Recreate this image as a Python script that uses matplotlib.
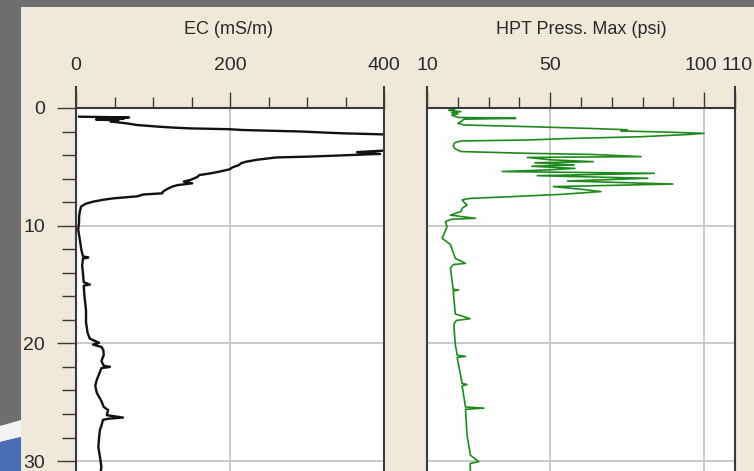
import matplotlib
matplotlib.use("Agg")
import matplotlib.pyplot as plt
from matplotlib.patches import Rectangle, Polygon
from matplotlib.ticker import MultipleLocator
from matplotlib.transforms import ScaledTranslation

plt.rcParams['font.family'] = ['Liberation Sans Narrow', 'Liberation Sans', 'DejaVu Sans']

W, H = 754, 471

# EC log: depth (ft) and conductivity (mS/m); values past 400 run off scale
ec_depth = [0.74, 0.80, 0.86, 0.92, 0.98, 1.05, 1.15, 1.30, 1.45, 1.59,
            1.66, 1.73, 1.80, 1.87, 2.00, 2.08, 2.15, 2.24, 2.35, 3.50,
            3.62, 3.75, 3.90, 3.99, 4.13, 4.20, 4.40, 4.56, 4.70, 4.84,
            5.05, 5.20, 5.41, 5.55, 5.70, 5.85, 6.10, 6.25, 6.40, 6.55,
            6.68, 6.90, 7.10, 7.25, 7.35, 7.50, 7.68, 7.80, 7.96, 8.15,
            8.38, 8.80, 9.20, 9.70, 10.2, 10.4, 11.2, 12.06, 12.6, 12.7,
            12.8, 13.4, 14.0, 14.8, 15.0, 15.1, 16.0, 17.2, 18.2, 19.1,
            19.6, 19.8, 19.95, 20.1, 20.3, 20.56, 21.0, 21.5, 21.9, 22.0,
            22.1, 22.6, 23.1, 23.6, 24.2, 24.9, 25.4, 25.66, 26.1, 26.3,
            26.4, 26.5, 27.0, 27.36, 28.0, 28.8, 29.6, 30.5, 30.9]
ec_value = [4, 69, 30, 62, 26, 55, 45, 65, 80, 108,
            125, 147, 199, 216, 294, 320, 346, 398, 470, 470,
            400, 365, 395, 360, 303, 260, 235, 221, 214, 212,
            203, 200, 186, 175, 160, 158, 149, 140, 151, 132,
            125, 118, 113, 112, 87, 80, 48, 35, 22, 12,
            6.5, 5, 4, 4, 3, 3, 5, 7, 9, 16,
            9, 8, 9, 10, 18, 10, 11, 13, 13, 15,
            18, 25, 30, 22, 33, 35.5, 36, 33, 36, 44,
            33, 30, 27, 25, 27, 33, 36, 41.6, 40, 61,
            42, 35, 33, 31, 30, 29, 31, 33, 32]

# HPT log: depth (ft) and max injection pressure (psi)
hpt_depth = [0.00, 0.10, 0.20, 0.31, 0.40, 0.50, 0.60, 0.80, 0.88, 0.95,
             1.16, 1.30, 1.44, 1.60, 1.73, 1.85, 1.95, 2.05, 2.15, 2.25,
             2.44, 2.60, 2.72, 2.80, 2.95, 3.20, 3.45, 3.70, 3.85, 3.95,
             4.13, 4.20, 4.40, 4.56, 4.65, 4.84, 4.95, 5.13, 5.25, 5.40,
             5.55, 5.75, 5.97, 6.20, 6.46, 6.68, 6.90, 7.10, 7.34, 7.50,
             7.68, 7.80, 8.00, 8.24, 8.50, 8.80, 9.10, 9.37, 9.45, 9.65,
             10.1, 11.07, 11.6, 12.77, 13.2, 13.3, 13.6, 15.4, 15.46, 15.55,
             17.5, 17.9, 18.05, 18.4, 20.1, 21.0, 21.1, 21.2, 23.4, 23.5,
             23.6, 25.4, 25.5, 25.6, 27.8, 29.5, 30.05, 30.2, 30.84]
hpt_value = [17, 19, 17, 21, 18, 20, 18, 20, 38.8, 22,
             21, 20, 22, 45, 62, 75, 73, 88, 100, 95,
             79.5, 55, 42.6, 21, 19, 18.5, 19, 21, 42.6, 64,
             79.5, 42.6, 50, 64, 45, 57.8, 44, 58, 50, 34.4,
             83.8, 45.8, 81.7, 55.6, 89.8, 51, 60, 66.5, 53.4, 40,
             24, 21.4, 22, 23, 21.5, 21, 17.6, 25.7, 18, 16,
             16.5, 14.9, 17.6, 19.2, 22.5, 18.5, 17.6, 18.5, 20.3, 18.5,
             19.2, 24, 19.5, 18.7, 19.2, 19.8, 22.5, 19.8, 21.4, 23,
             21.4, 22.5, 28.5, 22.5, 23, 24.1, 26.8, 24, 24.1]

ec_ticks = [0, 200, 400]
hpt_ticks = [10, 50, 100, 110]
depth_ticks = [0, 10, 20, 30]

fig = plt.figure(figsize=(W / 100, H / 100), dpi=100, facecolor='#6e6e6e')

# slide backdrop: beige panel plus the blue swoosh in the corner
def px(pts):
    return [(x / W, 1 - y / H) for x, y in pts]

backdrop = [
    Rectangle((21 / W, 0), 1 - 21 / W, 1 - 7 / H, facecolor='#efe9dc'),
    Polygon(px([(0, 426), (21, 420), (21, 437), (0, 442)]), facecolor='#f4f4f6'),
    Polygon(px([(0, 442), (21, 437), (21, 471), (0, 471)]), facecolor='#4a6cb4'),
]
for p in backdrop:
    p.set_transform(fig.transFigure)
    p.set_edgecolor('none')
    p.set_zorder(-5)
    fig.patches.append(p)

depth_max = (H - 108) / 11.77
ax_h = (H - 108) / H
ax1 = fig.add_axes([76 / W, 0, (384 - 76) / W, ax_h])
ax2 = fig.add_axes([427 / W, 0, (735 - 427) / W, ax_h])

ax1.plot(ec_value, ec_depth, color='#111111', lw=1.7)
ax2.plot(hpt_value, hpt_depth, color='#1e8a1e', lw=1.2)

ax1.set_xlim(0, 400)
ax2.set_xlim(10, 110)
ax1.set_xticks(ec_ticks)
ax2.set_xticks(hpt_ticks)
ax1.xaxis.set_minor_locator(MultipleLocator(50))
ax2.xaxis.set_minor_locator(MultipleLocator(10))

edge = '#3a3a3a'
txt = '#2a2a2a'
for ax in (ax1, ax2):
    ax.set_facecolor('#fefefe')
    ax.set_ylim(depth_max, 0)
    ax.set_yticks(depth_ticks)
    ax.yaxis.set_minor_locator(MultipleLocator(2))
    ax.xaxis.tick_top()
    ax.tick_params(axis='x', which='major', direction='out', length=11.5,
                   width=1.0, pad=13, labelsize=14, colors=edge, labelcolor=txt)
    ax.tick_params(axis='x', which='minor', direction='out', length=8,
                   width=1.0, colors=edge)
    ax.grid(True, which='major', color='#c6c6c6', lw=1.3)
    ax.spines['bottom'].set_visible(False)
    for s in ('top', 'left', 'right'):
        ax.spines[s].set_color(edge)
        ax.spines[s].set_linewidth(1.5)
    lo, hi = ax.get_xlim()
    for xv in (lo, hi):
        ax.axvline(xv, ymin=1, ymax=1 + 21 / (H - 108), color=edge, lw=1.5,
                   clip_on=False)

ax1.tick_params(axis='y', which='major', length=13.7, width=1.0, pad=8.5,
                labelsize=14, colors=edge, labelcolor=txt)
ax1.tick_params(axis='y', which='minor', length=10, width=1.0, colors=edge)
ax2.tick_params(axis='y', which='both', left=False, labelleft=False)

# "100" and "110" sit nearly on top of each other; spread them a little
labels = ax2.get_xticklabels()
for lab, dx in ((labels[2], -3), (labels[3], 2)):
    lab.set_transform(lab.get_transform() + ScaledTranslation(dx / 100, 0, fig.dpi_scale_trans))

fig.text(229 / W, 1 - 30 / H, 'EC (mS/m)', ha='center', va='center',
         fontsize=13, color=txt)
fig.text(581 / W, 1 - 30 / H, 'HPT Press. Max (psi)', ha='center',
         va='center', fontsize=13, color=txt)

fig.savefig('out.png', dpi=100, facecolor=fig.get_facecolor())
